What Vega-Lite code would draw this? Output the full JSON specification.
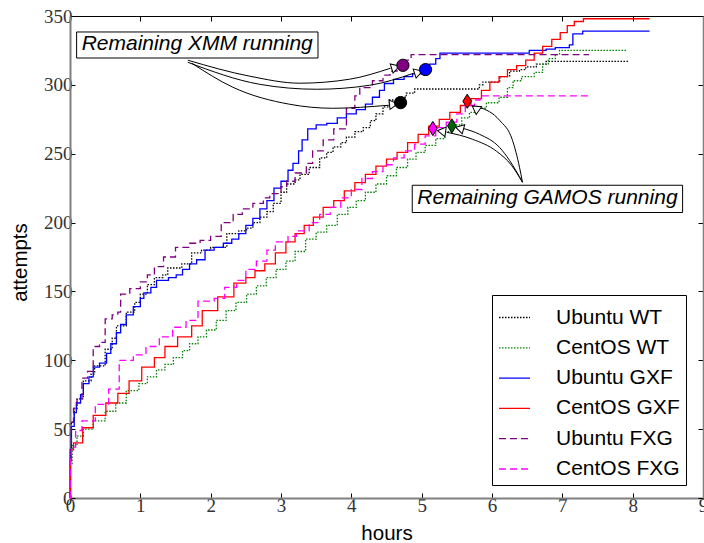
{
  "$schema": "https://vega.github.io/schema/vega-lite/v6.json",
  "width": 633,
  "height": 482,
  "autosize": {"type": "none"},
  "padding": {"left": 70, "top": 16, "right": 1, "bottom": 45},
  "config": {
    "view": {"stroke": "black", "strokeWidth": 1},
    "font": "Liberation Sans"
  },
  "datasets": {
    "lines": [
      {"series":"Ubuntu WT","hours":0,"attempts":0},{"series":"Ubuntu WT","hours":0.005,"attempts":35},{"series":"Ubuntu WT","hours":0.02,"attempts":55},{"series":"Ubuntu WT","hours":0.06,"attempts":65},{"series":"Ubuntu WT","hours":0.1,"attempts":72},{"series":"Ubuntu WT","hours":0.19,"attempts":85},{"series":"Ubuntu WT","hours":0.3,"attempts":90},{"series":"Ubuntu WT","hours":0.35,"attempts":96},{"series":"Ubuntu WT","hours":0.5,"attempts":108},{"series":"Ubuntu WT","hours":0.6,"attempts":116},{"series":"Ubuntu WT","hours":0.66,"attempts":125},{"series":"Ubuntu WT","hours":0.8,"attempts":135},{"series":"Ubuntu WT","hours":0.92,"attempts":142},{"series":"Ubuntu WT","hours":1.0,"attempts":148},{"series":"Ubuntu WT","hours":1.1,"attempts":155},{"series":"Ubuntu WT","hours":1.2,"attempts":160},{"series":"Ubuntu WT","hours":1.32,"attempts":162},{"series":"Ubuntu WT","hours":1.39,"attempts":167},{"series":"Ubuntu WT","hours":1.59,"attempts":170},{"series":"Ubuntu WT","hours":1.73,"attempts":178},{"series":"Ubuntu WT","hours":1.87,"attempts":180},{"series":"Ubuntu WT","hours":2.0,"attempts":182},{"series":"Ubuntu WT","hours":2.23,"attempts":192},{"series":"Ubuntu WT","hours":2.4,"attempts":194},{"series":"Ubuntu WT","hours":2.51,"attempts":196},{"series":"Ubuntu WT","hours":2.6,"attempts":200},{"series":"Ubuntu WT","hours":2.7,"attempts":204},{"series":"Ubuntu WT","hours":2.8,"attempts":208},{"series":"Ubuntu WT","hours":2.89,"attempts":214},{"series":"Ubuntu WT","hours":3.0,"attempts":222},{"series":"Ubuntu WT","hours":3.08,"attempts":228},{"series":"Ubuntu WT","hours":3.2,"attempts":231},{"series":"Ubuntu WT","hours":3.27,"attempts":235},{"series":"Ubuntu WT","hours":3.4,"attempts":240},{"series":"Ubuntu WT","hours":3.55,"attempts":247},{"series":"Ubuntu WT","hours":3.65,"attempts":251},{"series":"Ubuntu WT","hours":3.74,"attempts":255},{"series":"Ubuntu WT","hours":3.85,"attempts":258},{"series":"Ubuntu WT","hours":3.93,"attempts":262},{"series":"Ubuntu WT","hours":4.05,"attempts":266},{"series":"Ubuntu WT","hours":4.17,"attempts":269},{"series":"Ubuntu WT","hours":4.27,"attempts":274},{"series":"Ubuntu WT","hours":4.35,"attempts":279},{"series":"Ubuntu WT","hours":4.45,"attempts":284},{"series":"Ubuntu WT","hours":4.54,"attempts":289},{"series":"Ubuntu WT","hours":4.65,"attempts":291},{"series":"Ubuntu WT","hours":4.78,"attempts":294},{"series":"Ubuntu WT","hours":4.9,"attempts":297},{"series":"Ubuntu WT","hours":5.73,"attempts":297},{"series":"Ubuntu WT","hours":5.82,"attempts":300},{"series":"Ubuntu WT","hours":5.87,"attempts":302},{"series":"Ubuntu WT","hours":6.11,"attempts":306},{"series":"Ubuntu WT","hours":6.25,"attempts":310},{"series":"Ubuntu WT","hours":6.39,"attempts":311},{"series":"Ubuntu WT","hours":6.48,"attempts":313},{"series":"Ubuntu WT","hours":6.63,"attempts":315},{"series":"Ubuntu WT","hours":6.77,"attempts":317},{"series":"Ubuntu WT","hours":7.95,"attempts":317},

      {"series":"CentOS WT","hours":0,"attempts":0},{"series":"CentOS WT","hours":0.005,"attempts":25},{"series":"CentOS WT","hours":0.03,"attempts":38},{"series":"CentOS WT","hours":0.1,"attempts":45},{"series":"CentOS WT","hours":0.19,"attempts":50},{"series":"CentOS WT","hours":0.33,"attempts":56},{"series":"CentOS WT","hours":0.5,"attempts":63},{"series":"CentOS WT","hours":0.65,"attempts":69},{"series":"CentOS WT","hours":0.8,"attempts":78},{"series":"CentOS WT","hours":0.98,"attempts":83},{"series":"CentOS WT","hours":1.1,"attempts":88},{"series":"CentOS WT","hours":1.23,"attempts":93},{"series":"CentOS WT","hours":1.35,"attempts":97},{"series":"CentOS WT","hours":1.47,"attempts":102},{"series":"CentOS WT","hours":1.6,"attempts":107},{"series":"CentOS WT","hours":1.7,"attempts":112},{"series":"CentOS WT","hours":1.82,"attempts":117},{"series":"CentOS WT","hours":1.94,"attempts":122},{"series":"CentOS WT","hours":2.08,"attempts":129},{"series":"CentOS WT","hours":2.22,"attempts":136},{"series":"CentOS WT","hours":2.36,"attempts":142},{"series":"CentOS WT","hours":2.51,"attempts":148},{"series":"CentOS WT","hours":2.65,"attempts":154},{"series":"CentOS WT","hours":2.79,"attempts":160},{"series":"CentOS WT","hours":2.93,"attempts":166},{"series":"CentOS WT","hours":3.07,"attempts":172},{"series":"CentOS WT","hours":3.2,"attempts":179},{"series":"CentOS WT","hours":3.35,"attempts":188},{"series":"CentOS WT","hours":3.5,"attempts":193},{"series":"CentOS WT","hours":3.65,"attempts":198},{"series":"CentOS WT","hours":3.8,"attempts":206},{"series":"CentOS WT","hours":3.95,"attempts":211},{"series":"CentOS WT","hours":4.07,"attempts":216},{"series":"CentOS WT","hours":4.2,"attempts":222},{"series":"CentOS WT","hours":4.35,"attempts":228},{"series":"CentOS WT","hours":4.5,"attempts":234},{"series":"CentOS WT","hours":4.64,"attempts":240},{"series":"CentOS WT","hours":4.8,"attempts":246},{"series":"CentOS WT","hours":4.92,"attempts":251},{"series":"CentOS WT","hours":5.05,"attempts":256},{"series":"CentOS WT","hours":5.2,"attempts":261},{"series":"CentOS WT","hours":5.33,"attempts":266},{"series":"CentOS WT","hours":5.45,"attempts":271},{"series":"CentOS WT","hours":5.57,"attempts":276},{"series":"CentOS WT","hours":5.68,"attempts":280},{"series":"CentOS WT","hours":5.8,"attempts":283},{"series":"CentOS WT","hours":5.92,"attempts":287},{"series":"CentOS WT","hours":6.1,"attempts":291},{"series":"CentOS WT","hours":6.22,"attempts":298},{"series":"CentOS WT","hours":6.3,"attempts":303},{"series":"CentOS WT","hours":6.42,"attempts":306},{"series":"CentOS WT","hours":6.6,"attempts":309},{"series":"CentOS WT","hours":6.72,"attempts":315},{"series":"CentOS WT","hours":6.8,"attempts":319},{"series":"CentOS WT","hours":6.9,"attempts":322},{"series":"CentOS WT","hours":6.96,"attempts":325},{"series":"CentOS WT","hours":7.91,"attempts":325},

      {"series":"Ubuntu GXF","hours":0,"attempts":0},{"series":"Ubuntu GXF","hours":0.005,"attempts":35},{"series":"Ubuntu GXF","hours":0.02,"attempts":52},{"series":"Ubuntu GXF","hours":0.06,"attempts":62},{"series":"Ubuntu GXF","hours":0.09,"attempts":69},{"series":"Ubuntu GXF","hours":0.15,"attempts":75},{"series":"Ubuntu GXF","hours":0.19,"attempts":83},{"series":"Ubuntu GXF","hours":0.27,"attempts":88},{"series":"Ubuntu GXF","hours":0.33,"attempts":95},{"series":"Ubuntu GXF","hours":0.42,"attempts":98},{"series":"Ubuntu GXF","hours":0.52,"attempts":105},{"series":"Ubuntu GXF","hours":0.58,"attempts":112},{"series":"Ubuntu GXF","hours":0.66,"attempts":120},{"series":"Ubuntu GXF","hours":0.72,"attempts":126},{"series":"Ubuntu GXF","hours":0.8,"attempts":133},{"series":"Ubuntu GXF","hours":0.9,"attempts":139},{"series":"Ubuntu GXF","hours":1.0,"attempts":145},{"series":"Ubuntu GXF","hours":1.05,"attempts":149},{"series":"Ubuntu GXF","hours":1.15,"attempts":153},{"series":"Ubuntu GXF","hours":1.23,"attempts":158},{"series":"Ubuntu GXF","hours":1.4,"attempts":160},{"series":"Ubuntu GXF","hours":1.51,"attempts":162},{"series":"Ubuntu GXF","hours":1.6,"attempts":166},{"series":"Ubuntu GXF","hours":1.7,"attempts":170},{"series":"Ubuntu GXF","hours":1.8,"attempts":173},{"series":"Ubuntu GXF","hours":1.92,"attempts":180},{"series":"Ubuntu GXF","hours":2.05,"attempts":182},{"series":"Ubuntu GXF","hours":2.18,"attempts":185},{"series":"Ubuntu GXF","hours":2.3,"attempts":188},{"series":"Ubuntu GXF","hours":2.4,"attempts":192},{"series":"Ubuntu GXF","hours":2.5,"attempts":198},{"series":"Ubuntu GXF","hours":2.6,"attempts":203},{"series":"Ubuntu GXF","hours":2.7,"attempts":210},{"series":"Ubuntu GXF","hours":2.8,"attempts":216},{"series":"Ubuntu GXF","hours":2.9,"attempts":225},{"series":"Ubuntu GXF","hours":3.0,"attempts":230},{"series":"Ubuntu GXF","hours":3.1,"attempts":238},{"series":"Ubuntu GXF","hours":3.17,"attempts":243},{"series":"Ubuntu GXF","hours":3.25,"attempts":252},{"series":"Ubuntu GXF","hours":3.3,"attempts":260},{"series":"Ubuntu GXF","hours":3.38,"attempts":268},{"series":"Ubuntu GXF","hours":3.5,"attempts":271},{"series":"Ubuntu GXF","hours":3.65,"attempts":272},{"series":"Ubuntu GXF","hours":3.8,"attempts":276},{"series":"Ubuntu GXF","hours":3.93,"attempts":279},{"series":"Ubuntu GXF","hours":4.07,"attempts":282},{"series":"Ubuntu GXF","hours":4.2,"attempts":286},{"series":"Ubuntu GXF","hours":4.3,"attempts":291},{"series":"Ubuntu GXF","hours":4.4,"attempts":296},{"series":"Ubuntu GXF","hours":4.47,"attempts":301},{"series":"Ubuntu GXF","hours":4.6,"attempts":304},{"series":"Ubuntu GXF","hours":4.75,"attempts":306},{"series":"Ubuntu GXF","hours":4.87,"attempts":308},{"series":"Ubuntu GXF","hours":5.0,"attempts":310},{"series":"Ubuntu GXF","hours":5.11,"attempts":315},{"series":"Ubuntu GXF","hours":5.2,"attempts":319},{"series":"Ubuntu GXF","hours":5.26,"attempts":323},{"series":"Ubuntu GXF","hours":6.44,"attempts":323},{"series":"Ubuntu GXF","hours":6.53,"attempts":325},{"series":"Ubuntu GXF","hours":6.77,"attempts":326},{"series":"Ubuntu GXF","hours":6.9,"attempts":327},{"series":"Ubuntu GXF","hours":7.1,"attempts":329},{"series":"Ubuntu GXF","hours":7.15,"attempts":337},{"series":"Ubuntu GXF","hours":7.29,"attempts":339},{"series":"Ubuntu GXF","hours":8.24,"attempts":339},

      {"series":"CentOS GXF","hours":0,"attempts":0},{"series":"CentOS GXF","hours":0.005,"attempts":27},{"series":"CentOS GXF","hours":0.02,"attempts":35},{"series":"CentOS GXF","hours":0.05,"attempts":40},{"series":"CentOS GXF","hours":0.18,"attempts":51},{"series":"CentOS GXF","hours":0.33,"attempts":60},{"series":"CentOS GXF","hours":0.51,"attempts":69},{"series":"CentOS GXF","hours":0.68,"attempts":76},{"series":"CentOS GXF","hours":0.84,"attempts":85},{"series":"CentOS GXF","hours":1.02,"attempts":95},{"series":"CentOS GXF","hours":1.2,"attempts":102},{"series":"CentOS GXF","hours":1.35,"attempts":110},{"series":"CentOS GXF","hours":1.53,"attempts":117},{"series":"CentOS GXF","hours":1.73,"attempts":125},{"series":"CentOS GXF","hours":1.88,"attempts":136},{"series":"CentOS GXF","hours":2.1,"attempts":146},{"series":"CentOS GXF","hours":2.33,"attempts":156},{"series":"CentOS GXF","hours":2.5,"attempts":160},{"series":"CentOS GXF","hours":2.63,"attempts":165},{"series":"CentOS GXF","hours":2.77,"attempts":170},{"series":"CentOS GXF","hours":2.92,"attempts":178},{"series":"CentOS GXF","hours":3.07,"attempts":186},{"series":"CentOS GXF","hours":3.2,"attempts":192},{"series":"CentOS GXF","hours":3.33,"attempts":198},{"series":"CentOS GXF","hours":3.46,"attempts":204},{"series":"CentOS GXF","hours":3.6,"attempts":211},{"series":"CentOS GXF","hours":3.75,"attempts":216},{"series":"CentOS GXF","hours":3.9,"attempts":223},{"series":"CentOS GXF","hours":4.05,"attempts":229},{"series":"CentOS GXF","hours":4.2,"attempts":235},{"series":"CentOS GXF","hours":4.35,"attempts":241},{"series":"CentOS GXF","hours":4.5,"attempts":246},{"series":"CentOS GXF","hours":4.65,"attempts":251},{"series":"CentOS GXF","hours":4.8,"attempts":258},{"series":"CentOS GXF","hours":4.95,"attempts":264},{"series":"CentOS GXF","hours":5.1,"attempts":270},{"series":"CentOS GXF","hours":5.25,"attempts":275},{"series":"CentOS GXF","hours":5.4,"attempts":280},{"series":"CentOS GXF","hours":5.55,"attempts":285},{"series":"CentOS GXF","hours":5.7,"attempts":290},{"series":"CentOS GXF","hours":5.85,"attempts":296},{"series":"CentOS GXF","hours":5.97,"attempts":302},{"series":"CentOS GXF","hours":6.1,"attempts":306},{"series":"CentOS GXF","hours":6.22,"attempts":311},{"series":"CentOS GXF","hours":6.35,"attempts":314},{"series":"CentOS GXF","hours":6.48,"attempts":318},{"series":"CentOS GXF","hours":6.6,"attempts":323},{"series":"CentOS GXF","hours":6.72,"attempts":328},{"series":"CentOS GXF","hours":6.85,"attempts":333},{"series":"CentOS GXF","hours":6.97,"attempts":338},{"series":"CentOS GXF","hours":7.07,"attempts":343},{"series":"CentOS GXF","hours":7.17,"attempts":346},{"series":"CentOS GXF","hours":7.3,"attempts":348},{"series":"CentOS GXF","hours":8.24,"attempts":348},

      {"series":"Ubuntu FXG","hours":0,"attempts":0},{"series":"Ubuntu FXG","hours":0.005,"attempts":30},{"series":"Ubuntu FXG","hours":0.02,"attempts":55},{"series":"Ubuntu FXG","hours":0.05,"attempts":65},{"series":"Ubuntu FXG","hours":0.1,"attempts":72},{"series":"Ubuntu FXG","hours":0.17,"attempts":87},{"series":"Ubuntu FXG","hours":0.25,"attempts":92},{"series":"Ubuntu FXG","hours":0.33,"attempts":110},{"series":"Ubuntu FXG","hours":0.42,"attempts":113},{"series":"Ubuntu FXG","hours":0.5,"attempts":130},{"series":"Ubuntu FXG","hours":0.6,"attempts":133},{"series":"Ubuntu FXG","hours":0.68,"attempts":135},{"series":"Ubuntu FXG","hours":0.72,"attempts":148},{"series":"Ubuntu FXG","hours":0.85,"attempts":152},{"series":"Ubuntu FXG","hours":1.0,"attempts":157},{"series":"Ubuntu FXG","hours":1.1,"attempts":162},{"series":"Ubuntu FXG","hours":1.2,"attempts":168},{"series":"Ubuntu FXG","hours":1.33,"attempts":175},{"series":"Ubuntu FXG","hours":1.5,"attempts":182},{"series":"Ubuntu FXG","hours":1.7,"attempts":185},{"series":"Ubuntu FXG","hours":1.85,"attempts":187},{"series":"Ubuntu FXG","hours":2.0,"attempts":190},{"series":"Ubuntu FXG","hours":2.15,"attempts":200},{"series":"Ubuntu FXG","hours":2.32,"attempts":206},{"series":"Ubuntu FXG","hours":2.45,"attempts":210},{"series":"Ubuntu FXG","hours":2.6,"attempts":214},{"series":"Ubuntu FXG","hours":2.75,"attempts":218},{"series":"Ubuntu FXG","hours":2.84,"attempts":221},{"series":"Ubuntu FXG","hours":3.0,"attempts":226},{"series":"Ubuntu FXG","hours":3.08,"attempts":230},{"series":"Ubuntu FXG","hours":3.2,"attempts":236},{"series":"Ubuntu FXG","hours":3.36,"attempts":243},{"series":"Ubuntu FXG","hours":3.45,"attempts":252},{"series":"Ubuntu FXG","hours":3.6,"attempts":260},{"series":"Ubuntu FXG","hours":3.75,"attempts":268},{"series":"Ubuntu FXG","hours":3.93,"attempts":283},{"series":"Ubuntu FXG","hours":4.05,"attempts":292},{"series":"Ubuntu FXG","hours":4.12,"attempts":298},{"series":"Ubuntu FXG","hours":4.3,"attempts":303},{"series":"Ubuntu FXG","hours":4.45,"attempts":307},{"series":"Ubuntu FXG","hours":4.55,"attempts":310},{"series":"Ubuntu FXG","hours":4.65,"attempts":313},{"series":"Ubuntu FXG","hours":4.78,"attempts":318},{"series":"Ubuntu FXG","hours":4.85,"attempts":322},{"series":"Ubuntu FXG","hours":7.38,"attempts":322},

      {"series":"CentOS FXG","hours":0,"attempts":0},{"series":"CentOS FXG","hours":0.005,"attempts":30},{"series":"CentOS FXG","hours":0.02,"attempts":37},{"series":"CentOS FXG","hours":0.08,"attempts":49},{"series":"CentOS FXG","hours":0.17,"attempts":56},{"series":"CentOS FXG","hours":0.36,"attempts":68},{"series":"CentOS FXG","hours":0.55,"attempts":79},{"series":"CentOS FXG","hours":0.7,"attempts":100},{"series":"CentOS FXG","hours":0.9,"attempts":104},{"series":"CentOS FXG","hours":1.08,"attempts":110},{"series":"CentOS FXG","hours":1.27,"attempts":117},{"series":"CentOS FXG","hours":1.46,"attempts":124},{"series":"CentOS FXG","hours":1.65,"attempts":129},{"series":"CentOS FXG","hours":1.82,"attempts":143},{"series":"CentOS FXG","hours":2.05,"attempts":145},{"series":"CentOS FXG","hours":2.2,"attempts":153},{"series":"CentOS FXG","hours":2.37,"attempts":158},{"series":"CentOS FXG","hours":2.5,"attempts":166},{"series":"CentOS FXG","hours":2.65,"attempts":172},{"series":"CentOS FXG","hours":2.8,"attempts":180},{"series":"CentOS FXG","hours":2.92,"attempts":186},{"series":"CentOS FXG","hours":3.1,"attempts":190},{"series":"CentOS FXG","hours":3.22,"attempts":194},{"series":"CentOS FXG","hours":3.4,"attempts":200},{"series":"CentOS FXG","hours":3.55,"attempts":206},{"series":"CentOS FXG","hours":3.7,"attempts":211},{"series":"CentOS FXG","hours":3.85,"attempts":218},{"series":"CentOS FXG","hours":4.0,"attempts":224},{"series":"CentOS FXG","hours":4.15,"attempts":232},{"series":"CentOS FXG","hours":4.3,"attempts":237},{"series":"CentOS FXG","hours":4.45,"attempts":242},{"series":"CentOS FXG","hours":4.6,"attempts":247},{"series":"CentOS FXG","hours":4.75,"attempts":252},{"series":"CentOS FXG","hours":4.9,"attempts":257},{"series":"CentOS FXG","hours":5.05,"attempts":263},{"series":"CentOS FXG","hours":5.2,"attempts":269},{"series":"CentOS FXG","hours":5.35,"attempts":273},{"series":"CentOS FXG","hours":5.5,"attempts":279},{"series":"CentOS FXG","hours":5.62,"attempts":285},{"series":"CentOS FXG","hours":5.75,"attempts":289},{"series":"CentOS FXG","hours":5.83,"attempts":292},{"series":"CentOS FXG","hours":7.38,"attempts":292}
    ],
    "markers": [
      {"series":"Ubuntu FXG","kind":"circle","hours":4.733,"attempts":314.2},
      {"series":"Ubuntu GXF","kind":"circle","hours":5.055,"attempts":311.1},
      {"series":"Ubuntu WT","kind":"circle","hours":4.70,"attempts":287.1},
      {"series":"CentOS GXF","kind":"diamond","hours":5.648,"attempts":288.1},
      {"series":"CentOS FXG","kind":"diamond","hours":5.159,"attempts":268.3},
      {"series":"CentOS WT","kind":"diamond","hours":5.429,"attempts":270.2}
    ],
    "arrows": [
      {"arrow":"xmm-fxg","order":1,"hours":1.675,"attempts":317.9},
      {"arrow":"xmm-fxg","order":2,"hours":2.555,"attempts":306.3},
      {"arrow":"xmm-fxg","order":3,"hours":3.266,"attempts":301.2},
      {"arrow":"xmm-fxg","order":4,"hours":3.976,"attempts":304.1},
      {"arrow":"xmm-fxg","order":5,"hours":4.558,"attempts":312.1},
      {"arrow":"xmm-gxf","order":1,"hours":1.675,"attempts":316.4},
      {"arrow":"xmm-gxf","order":2,"hours":2.697,"attempts":300.4},
      {"arrow":"xmm-gxf","order":3,"hours":3.507,"attempts":296.8},
      {"arrow":"xmm-gxf","order":4,"hours":4.26,"attempts":299.7},
      {"arrow":"xmm-gxf","order":5,"hours":4.885,"attempts":308.4},
      {"arrow":"xmm-wt","order":1,"hours":1.732,"attempts":315.7},
      {"arrow":"xmm-wt","order":2,"hours":2.314,"attempts":298.3},
      {"arrow":"xmm-wt","order":3,"hours":3.124,"attempts":285.9},
      {"arrow":"xmm-wt","order":4,"hours":3.734,"attempts":283.0},
      {"arrow":"xmm-wt","order":5,"hours":4.53,"attempts":285.2},
      {"arrow":"gamos-gxf","order":1,"hours":6.433,"attempts":229.3},
      {"arrow":"gamos-gxf","order":2,"hours":6.391,"attempts":240.2},
      {"arrow":"gamos-gxf","order":3,"hours":6.291,"attempts":259.8},
      {"arrow":"gamos-gxf","order":4,"hours":6.107,"attempts":274.3},
      {"arrow":"gamos-gxf","order":5,"hours":5.823,"attempts":283.7},
      {"arrow":"gamos-wt","order":1,"hours":6.433,"attempts":229.3},
      {"arrow":"gamos-wt","order":2,"hours":6.249,"attempts":245.2},
      {"arrow":"gamos-wt","order":3,"hours":6.107,"attempts":254.6},
      {"arrow":"gamos-wt","order":4,"hours":5.823,"attempts":264.1},
      {"arrow":"gamos-wt","order":5,"hours":5.581,"attempts":268.5},
      {"arrow":"gamos-fxg","order":1,"hours":6.433,"attempts":229.3},
      {"arrow":"gamos-fxg","order":2,"hours":6.277,"attempts":241.6},
      {"arrow":"gamos-fxg","order":3,"hours":6.064,"attempts":251.8},
      {"arrow":"gamos-fxg","order":4,"hours":5.723,"attempts":260.5},
      {"arrow":"gamos-fxg","order":5,"hours":5.354,"attempts":265.6}
    ],
    "heads": [
      {"arrow":"xmm-fxg","hours":4.629,"attempts":312.8,"dir":-17},
      {"arrow":"xmm-gxf","hours":4.956,"attempts":309.1,"dir":-18},
      {"arrow":"xmm-wt","hours":4.601,"attempts":285.9,"dir":-6},
      {"arrow":"gamos-gxf","hours":5.766,"attempts":283.0,"dir":215},
      {"arrow":"gamos-wt","hours":5.538,"attempts":268.5,"dir":195},
      {"arrow":"gamos-fxg","hours":5.282,"attempts":266.3,"dir":188}
    ],
    "notes": [
      {"text":"Remaining XMM running","x1":0.094,"x2":3.526,"y1":319.5,"y2":338.4,"tx":1.809,"ty":325.1},
      {"text":"Remaining GAMOS running","x1":4.866,"x2":8.71,"y1":207.3,"y2":227.1,"tx":6.788,"ty":213.8}
    ]
  },
  "layer": [
    {
      "data": {"name": "lines"},
      "mark": {"type": "line", "interpolate": "step-after"},
      "encoding": {
        "x": {"field": "hours", "type": "quantitative", "scale": {"domain": [0, 9], "nice": false},
          "axis": {"orient": "bottom", "values": [0,1,2,3,4,5,6,7,8,9], "format": "d", "title": "hours",
            "titleFont": "Liberation Sans", "titleFontSize": 20.5, "titleFontWeight": "normal", "titleColor": "black",
            "titleBaseline": "alphabetic", "titleY": 41,
            "labelFont": "Liberation Serif", "labelFontSize": 19, "labelColor": "#333", "labelPadding": 3,
            "labelFlush": false, "labelOverlap": false, "tickSize": -5, "tickColor": "black",
            "domainColor": "#808080", "domainWidth": 2, "grid": false}},
        "y": {"field": "attempts", "type": "quantitative", "scale": {"domain": [0, 350], "nice": false},
          "axis": {"orient": "left", "values": [0,50,100,150,200,250,300,350], "format": "d", "title": "attempts",
            "titleFont": "Liberation Sans", "titleFontSize": 20.5, "titleFontWeight": "normal", "titleColor": "black",
            "titleBaseline": "alphabetic", "titleAngle": 270, "titleX": -44, "titleY": 246, "titleAlign": "center",
            "labelFont": "Liberation Serif", "labelFontSize": 19, "labelColor": "#333", "labelPadding": 3,
            "labelFlush": false, "labelOverlap": false, "tickSize": -5, "tickColor": "black",
            "domainColor": "#808080", "domainWidth": 2, "grid": false}},
        "color": {"field": "series", "type": "nominal",
          "scale": {"domain": ["Ubuntu WT","CentOS WT","Ubuntu GXF","CentOS GXF","Ubuntu FXG","CentOS FXG"],
                    "range": ["#000000","#008000","#0000ff","#ff0000","#800080","#ff00ff"]},
          "legend": {"title": null, "orient": "none", "legendX": 422, "legendY": 279, "fillColor": "white",
            "strokeColor": "black", "padding": 6, "symbolType": "stroke", "symbolSize": 961,
            "labelFont": "Liberation Sans", "labelFontSize": 21, "labelColor": "black", "labelOffset": 25,
            "rowPadding": 3.3, "cornerRadius": 0}},
        "strokeDash": {"field": "series", "type": "nominal",
          "scale": {"domain": ["Ubuntu WT","CentOS WT","Ubuntu GXF","CentOS GXF","Ubuntu FXG","CentOS FXG"],
                    "range": [[1.5,1.5],[1.5,1.5],[1,0],[1,0],[7,4],[7,4]]},
          "legend": {"title": null, "orient": "none", "legendX": 422, "legendY": 279, "fillColor": "white",
            "strokeColor": "black", "padding": 6, "symbolType": "stroke", "symbolSize": 961,
            "labelFont": "Liberation Sans", "labelFontSize": 21, "labelColor": "black", "labelOffset": 25,
            "rowPadding": 3.3, "cornerRadius": 0}},
        "strokeWidth": {"field": "series", "type": "nominal",
          "scale": {"domain": ["Ubuntu WT","CentOS WT","Ubuntu GXF","CentOS GXF","Ubuntu FXG","CentOS FXG"],
                    "range": [1.3,1.3,1.5,1.5,3,3]},
          "legend": {"title": null, "orient": "none", "legendX": 422, "legendY": 279, "fillColor": "white",
            "strokeColor": "black", "padding": 6, "symbolType": "stroke", "symbolSize": 961,
            "labelFont": "Liberation Sans", "labelFontSize": 21, "labelColor": "black", "labelOffset": 25,
            "rowPadding": 3.3, "cornerRadius": 0}}
      }
    },
    {
      "data": {"name": "arrows"},
      "mark": {"type": "line", "interpolate": "monotone", "color": "black", "strokeWidth": 1},
      "encoding": {
        "x": {"field": "hours", "type": "quantitative", "scale": {"domain": [0, 9], "nice": false}, "axis": null},
        "y": {"field": "attempts", "type": "quantitative", "scale": {"domain": [0, 350], "nice": false}, "axis": null},
        "detail": {"field": "arrow"},
        "order": {"field": "order", "type": "quantitative"}
      }
    },
    {
      "data": {"name": "heads"},
      "mark": {"type": "point", "shape": "triangle-right", "filled": true, "fill": "white", "stroke": "black", "strokeWidth": 1, "size": 90, "opacity": 1},
      "encoding": {
        "x": {"field": "hours", "type": "quantitative", "scale": {"domain": [0, 9], "nice": false}, "axis": null},
        "y": {"field": "attempts", "type": "quantitative", "scale": {"domain": [0, 350], "nice": false}, "axis": null},
        "angle": {"field": "dir", "type": "quantitative", "scale": null}
      }
    },
    {
      "data": {"name": "markers"},
      "transform": [{"filter": "datum.kind === 'circle'"}],
      "mark": {"type": "point", "shape": "circle", "filled": true, "stroke": "black", "strokeWidth": 1, "size": 150, "opacity": 1},
      "encoding": {
        "x": {"field": "hours", "type": "quantitative", "scale": {"domain": [0, 9], "nice": false},
          "axis": {"orient": "top", "values": [0,1,2,3,4,5,6,7,8,9], "labels": false, "title": null, "tickSize": -5, "tickColor": "black", "domain": false, "grid": false}},
        "y": {"field": "attempts", "type": "quantitative", "scale": {"domain": [0, 350], "nice": false},
          "axis": {"orient": "right", "values": [0,50,100,150,200,250,300,350], "labels": false, "title": null, "tickSize": -5, "tickColor": "black", "domainColor": "#808080", "domainWidth": 1.5, "grid": false}},
        "fill": {"field": "series", "type": "nominal",
          "scale": {"domain": ["Ubuntu WT","CentOS WT","Ubuntu GXF","CentOS GXF","Ubuntu FXG","CentOS FXG"],
                    "range": ["#000000","#006400","#0000ff","#ff0000","#800080","#ff00ff"]},
          "legend": null}
      }
    },
    {
      "data": {"name": "markers"},
      "transform": [{"filter": "datum.kind === 'diamond'"}],
      "mark": {"type": "point", "shape": "M0,-1L0.62,0L0,1L-0.62,0Z", "filled": true, "stroke": "black", "strokeWidth": 1, "size": 200, "opacity": 1},
      "encoding": {
        "x": {"field": "hours", "type": "quantitative", "scale": {"domain": [0, 9], "nice": false}, "axis": null},
        "y": {"field": "attempts", "type": "quantitative", "scale": {"domain": [0, 350], "nice": false}, "axis": null},
        "fill": {"field": "series", "type": "nominal", "legend": null}
      }
    },
    {
      "data": {"name": "notes"},
      "mark": {"type": "rect", "fill": "white", "stroke": "black", "strokeWidth": 1},
      "encoding": {
        "x": {"field": "x1", "type": "quantitative", "scale": {"domain": [0, 9], "nice": false}, "axis": null},
        "x2": {"field": "x2"},
        "y": {"field": "y1", "type": "quantitative", "scale": {"domain": [0, 350], "nice": false}, "axis": null},
        "y2": {"field": "y2"}
      }
    },
    {
      "data": {"name": "notes"},
      "mark": {"type": "text", "font": "Liberation Sans", "fontStyle": "italic", "fontSize": 21, "color": "black", "align": "center", "baseline": "alphabetic"},
      "encoding": {
        "x": {"field": "tx", "type": "quantitative", "scale": {"domain": [0, 9], "nice": false}, "axis": null},
        "y": {"field": "ty", "type": "quantitative", "scale": {"domain": [0, 350], "nice": false}, "axis": null},
        "text": {"field": "text"}
      }
    }
  ],
  "resolve": {"axis": {"x": "independent", "y": "independent"}}
}
